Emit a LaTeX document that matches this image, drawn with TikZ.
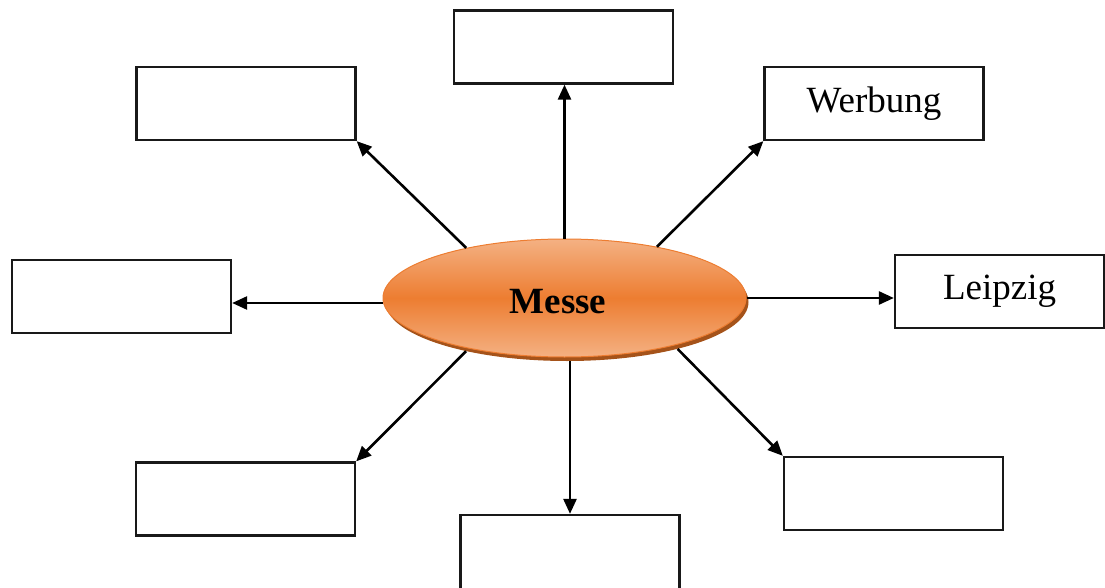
\documentclass[tikz,border=0pt]{standalone}
\usepackage{fontspec}
\setmainfont{Liberation Serif}
\usetikzlibrary{arrows.meta,shapes.geometric,calc}
\definecolor{orMain}{HTML}{ED7D31}
\definecolor{orLight}{HTML}{F4B183}
\definecolor{orShadow}{HTML}{A5531A}
\tikzset{
  box/.style={draw=black!90, line width=2.3pt, minimum width=219pt, minimum height=73pt, inner sep=0pt, fill=white, font=\fontsize{37}{40}\selectfont},
  arr/.style={line width=2.6pt, -{Triangle[length=15pt,width=13pt]}},
}
\begin{document}
\begin{tikzpicture}[x=1pt,y=-1pt]
\useasboundingbox (0,0) rectangle (1105,588);
% boxes
\node[box] (tc) at (563.5,47) {};
\node[box] (tl) at (246,103.5) {};
\node[box] (wb) at (874,103.5) {Werbung};
\node[box] (lf) at (121.5,296.5) {};
\node[box, minimum width=209pt] (lp) at (999.5,291.5) {Leipzig};
\node[box] (bl) at (245.5,499) {};
\node[box, minimum height=74pt] (bc) at (570,552) {};
\node[box] (br) at (893.5,493.5) {};
% ellipse with shadow
\node[ellipse, fill=orShadow, minimum width=363pt, minimum height=118pt, inner sep=0pt] (msh) at (567,302) {};
\node[ellipse, draw=orMain, line width=1pt, top color=orLight, bottom color=orLight, middle color=orMain,
      minimum width=363pt, minimum height=118pt, inner sep=0pt] (m) at (564.5,298) {};
\node[font=\bfseries\fontsize{37}{40}\selectfont, inner sep=0pt] (mt) at (558,302) {Messe};
% arrows
\draw[arr] (m.north) -- (m.north |- tc.south);
\draw[arr] (m.153) -- (tl.south east);
\draw[arr] (m.29) -- (wb.south west);
\draw[arr] ([yshift=-5pt]m.west) -- ([yshift=-5pt]m.west -| lf.east);
\draw[arr] (m.east) -- (m.east -| lp.west);
\draw[arr] (msh.206) -- (bl.north east);
\draw[arr] (msh.south -| bc.north) -- (bc.north);
\draw[arr] (msh.337) -- (br.north west);
\end{tikzpicture}
\end{document}
